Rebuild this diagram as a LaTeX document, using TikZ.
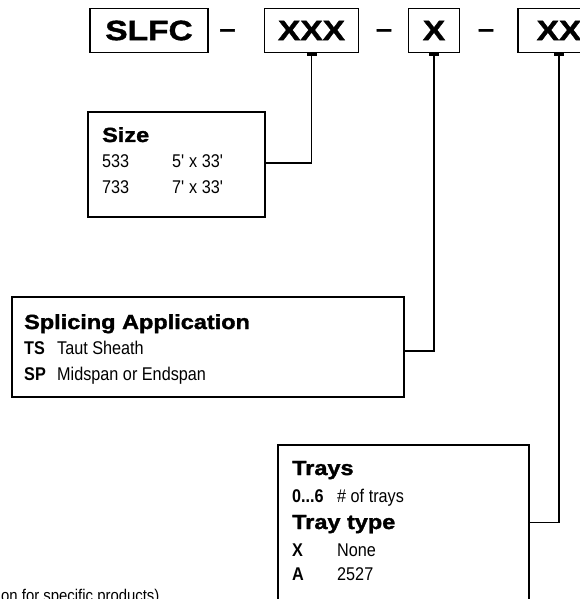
\documentclass[tikz,border=0pt]{standalone}
\usepackage{fontspec}
\setmainfont{Liberation Sans}
\newfontfamily\condfont[FakeStretch=0.88]{Liberation Sans}
\newfontfamily\headfont[FakeStretch=1.15,FakeBold=1.6]{Liberation Sans}
\newfontfamily\codefont[FakeStretch=1.2,FakeBold=1.4]{Liberation Sans}
\tikzset{
  codebox/.style={draw, line width=1.8bp, inner sep=0pt, minimum height=44bp,
    font=\codefont\bfseries\fontsize{28}{30}\selectfont},
  infobox/.style={draw, line width=1.8bp, inner sep=0pt},
  head/.style={anchor=base west, inner sep=0pt, font=\headfont\bfseries\fontsize{20.5}{24}\selectfont},
  body/.style={anchor=base west, inner sep=0pt, font=\condfont\fontsize{18.5}{20}\selectfont},
  key/.style={anchor=base west, inner sep=0pt, font=\condfont\bfseries\fontsize{18.5}{20}\selectfont},
  foot/.style={anchor=base west, inner sep=0pt, font=\condfont\fontsize{17}{19}\selectfont},
  link/.style={line width=1.8bp},
  dashmark/.style={inner sep=0pt, font=\codefont\bfseries\fontsize{24}{26}\selectfont},
}
\begin{document}
\begin{tikzpicture}[x=1bp,y=-1bp]
\useasboundingbox (0,0) rectangle (580,599);
\clip (0,0) rectangle (580,599);
% code boxes
\node[codebox, minimum width=118bp] (slfc) at (149,30.5) {SLFC};
\node[dashmark] (d1) at (227.5,33) {–};
\node[codebox, minimum width=94bp] (xxx) at (311.5,30.5) {XXX};
\node[dashmark] (d2) at (384,33) {–};
\node[codebox, minimum width=51bp] (xb) at (434,30.5) {X};
\node[dashmark] (d3) at (486,33) {–};
\node[codebox, minimum width=82bp] (xx) at (559,30.5) {XX};
% junction tabs
\foreach \n in {xxx,xb,xx}{
  \fill ([xshift=-5bp]\n.south) rectangle ([xshift=5bp,yshift=-2.5bp]\n.south);
}
% info boxes
\node[infobox, minimum width=177bp, minimum height=105bp] (size) at (176.5,164.5) {};
\node[infobox, minimum width=392bp, minimum height=100bp] (splice) at (208,347) {};
\node[infobox, minimum width=251bp, minimum height=170bp] (trays) at (403.5,530) {};
% connectors
\draw[link] (xxx.south) |- ([yshift=1.5bp]size.east);
\draw[link] (xb.south) |- ([yshift=-4bp]splice.east);
\draw[link] (xx.south) |- ([yshift=7.5bp]trays.east);
% Size
\node[head] (sizeh) at (102,142) {Size};
\node[body] (s1a) at (102,168) {533};
\node[body] (s1b) at (172,168) {5\textquotesingle{} x 33\textquotesingle};
\node[body] (s2a) at (102,193) {733};
\node[body] (s2b) at (172,193) {7\textquotesingle{} x 33\textquotesingle};
% Splicing
\node[head] (sph) at (24,329) {Splicing Application};
\node[key] (ts) at (24,354) {TS};
\node[body] (tst) at (57,354) {Taut Sheath};
\node[key] (sp) at (24,380) {SP};
\node[body] (spt) at (57,380) {Midspan or Endspan};
% Trays
\node[head] (trh) at (292,475) {Trays};
\node[key] (t06) at (292,502) {0...6};
\node[body] (t06t) at (337,502) {\# of trays};
\node[head] (tth) at (292,529) {Tray type};
\node[key] (tx) at (292,556) {X};
\node[body] (txt) at (337,556) {None};
\node[key] (ta) at (292,580) {A};
\node[body] (tat) at (337,580) {2527};
% footnote (cut)
\node[foot] (fn) at (1,601) {on for specific products)};
\end{tikzpicture}
\end{document}
